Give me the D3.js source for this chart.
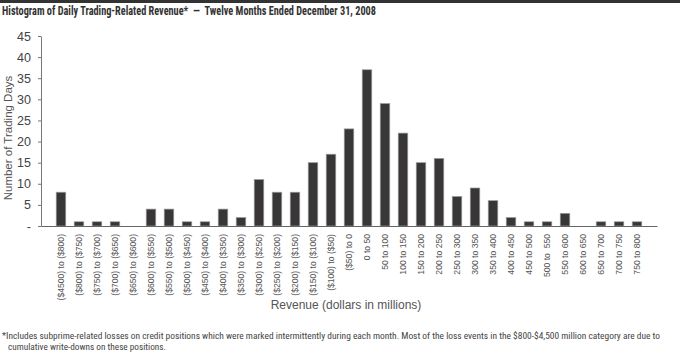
<!DOCTYPE html>
<html>
<head>
<meta charset="utf-8">
<script src="https://cdn.jsdelivr.net/npm/d3@7"></script>
<style>
  body { margin: 0; background: #fff; }
  svg { display: block; }
</style>
</head>
<body>
<svg width="680" height="353"></svg>
<script>
// ranges of daily revenue, in millions
var categories = [
  "($4500) to ($800)", "($800) to ($750)", "($750) to ($700)", "($700) to ($650)",
  "($650) to ($600)", "($600) to ($550)", "($550) to ($500)", "($500) to ($450)",
  "($450) to ($400)", "($400) to ($350)", "($350) to ($300)", "($300) to ($250)",
  "($250) to ($200)", "($200) to ($150)", "($150) to ($100)", "($100) to ($50)",
  "($50) to 0", "0 to 50", "50 to 100", "100 to 150", "150 to 200", "200 to 250",
  "250 to 300", "300 to 350", "350 to 400", "400 to 450", "450 to 500", "500 to\u00a0\u00a0550",
  "550 to 600", "600 to 650", "650 to 700", "700 to 750", "750 to 800"
];
// number of trading days in each range
var days = [8, 1, 1, 1, 0, 4, 4, 1, 1, 4, 2, 11, 8, 8, 15, 17, 23, 37, 29, 22, 15, 16,
            7, 9, 6, 2, 1, 1, 3, 0, 1, 1, 1];
var yTicks = [0, 5, 10, 15, 20, 25, 30, 35, 40, 45];

var title = "Histogram of Daily Trading-Related Revenue*\u00a0\u00a0\u2014\u00a0\u00a0Twelve Months Ended December 31, 2008";
var footnote = [
  "*Includes subprime-related losses on credit positions which were marked intermittently during each month. Most of the loss events in the $800-$4,500 million category are due to",
  "cumulative write-downs on these positions."
];

var svg = d3.select("svg");
var condensed = "'Liberation Sans Narrow', 'Roboto Condensed', 'DejaVu Sans Condensed', sans-serif";

// dark strip on top
svg.append("rect")
  .attr("x", 0).attr("y", 0)
  .attr("width", 680).attr("height", 3)
  .style("fill", "#333");

svg.append("text")
  .attr("x", 2).attr("y", 15)
  .attr("textLength", 374)
  .attr("lengthAdjust", "spacingAndGlyphs")
  .style("font-family", condensed)
  .style("font-weight", "bold")
  .style("font-size", "12px")
  .style("fill", "#333")
  .text(title);

var xScale = d3.scaleBand().domain(categories).range([41, 657])
  .paddingInner(0.47).paddingOuter(0.845);
var yScale = d3.scaleLinear().domain([0, 45]).range([226, 36]);

var yAxis = d3.axisLeft(yScale)
  .tickValues(yTicks)
  .tickSize(3).tickSizeOuter(0)
  .tickPadding(7)
  .tickFormat(d => d === 0 ? "-" : d);

var yG = svg.append("g")
  .attr("transform", "translate(41,0)")
  .call(yAxis);
yG.selectAll("path, line").style("stroke", "#777");
yG.selectAll("text")
  .style("font-family", "'Liberation Sans', Arial, sans-serif")
  .style("font-size", "12.5px")
  .style("fill", "#444");

// bars
svg.selectAll("rect.bar")
  .data(days)
  .enter()
  .append("rect")
    .attr("class", "bar")
    .attr("x", (d, i) => xScale(categories[i]))
    .attr("width", xScale.bandwidth())
    .attr("y", d => yScale(d))
    .attr("height", d => yScale(0) - yScale(d))
    .style("fill", "#383636")
    .style("stroke", d => d > 0 ? "#9a9a9a" : "none")
    .style("stroke-width", 0.7);

var xAxis = d3.axisBottom(xScale).tickSize(0).tickSizeOuter(0);
var xG = svg.append("g")
  .attr("transform", "translate(0,226)")
  .call(xAxis);
xG.select("path").style("stroke", "#666").style("stroke-width", 1.2);
xG.selectAll("text")
  .attr("transform", "rotate(-90)")
  .attr("x", -8).attr("y", 0)
  .attr("dy", "0.35em")
  .style("text-anchor", "end")
  .style("font-family", "'Liberation Sans', Arial, sans-serif")
  .style("font-size", "8.6px")
  .style("fill", "#555");

// axis titles
svg.append("text")
  .attr("transform", "translate(12,138) rotate(-90)")
  .style("text-anchor", "middle")
  .style("font-family", "'Liberation Sans', Arial, sans-serif")
  .style("font-size", "11.5px")
  .style("fill", "#555")
  .text("Number of Trading Days");

svg.append("text")
  .attr("x", 346).attr("y", 309)
  .style("text-anchor", "middle")
  .style("font-family", "'Liberation Sans', Arial, sans-serif")
  .style("font-size", "12px")
  .style("fill", "#555")
  .text("Revenue (dollars in millions)");

// footnote
svg.append("text")
  .attr("x", 2).attr("y", 339)
  .attr("textLength", 658)
  .attr("lengthAdjust", "spacingAndGlyphs")
  .style("font-family", condensed)
  .style("font-size", "9px")
  .style("fill", "#444")
  .text(footnote[0]);
svg.append("text")
  .attr("x", 8).attr("y", 350)
  .attr("textLength", 158)
  .attr("lengthAdjust", "spacingAndGlyphs")
  .style("font-family", condensed)
  .style("font-size", "9px")
  .style("fill", "#444")
  .text(footnote[1]);
</script>
</body>
</html>
